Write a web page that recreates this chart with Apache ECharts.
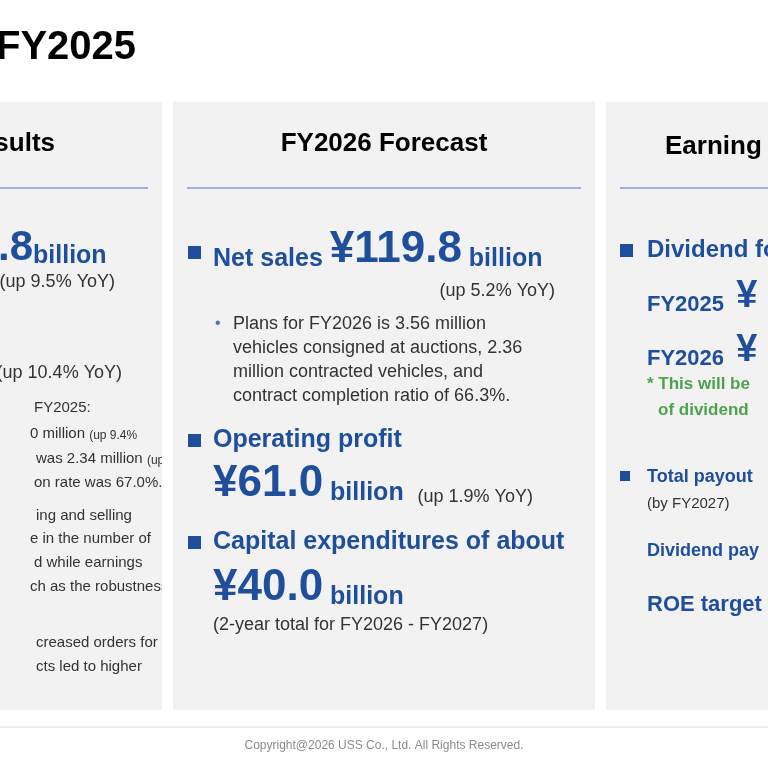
<!DOCTYPE html>
<html><head><meta charset="utf-8">
<script src="https://cdn.jsdelivr.net/npm/echarts@6/dist/echarts.min.js"></script>
<style>html,body{margin:0;padding:0;background:#fff}#c{width:768px;height:768px}</style>
</head><body><div id="c"></div>
<script>
const title = "FY2025";
const panelHeaders = ["Results", "FY2026 Forecast", "Earning"];
const forecastValues = ["¥119.8", "¥61.0", "¥40.0"];
const forecastChanges = ["(up 5.2% YoY)", "(up 1.9% YoY)"];
const forecastNotes = ["Plans for FY2026 is 3.56 million", "vehicles consigned at auctions, 2.36", "million contracted vehicles, and", "contract completion ratio of 66.3%."];
const leftLines = ["FY2025:", "0 million", "was 2.34 million", "on rate was 67.0%.", "ing and selling", "e in the number of", "d while earnings", "ch as the robustness", "creased orders for", "cts led to higher"];
const leftLineY = [408, 434, 459, 483, 516, 539, 563, 587, 643, 667];
const footer = "Copyright@2026 USS Co., Ltd. All Rights Reserved.";

const F = "Liberation Sans, Arial, sans-serif";
const B = "#1f4e9c", G = "#333";
const els = [];
function t(x, y, text, size, color, bold, align) {
  els.push({type:'text', x, y, style:{text, fill:color||G, font:(bold?'bold ':'')+size+'px '+F, textAlign:align||'left', textVerticalAlign:'middle'}});
}
function r(x, y, w, h, fill) { els.push({type:'rect', shape:{x,y,width:w,height:h}, style:{fill}}); }
function line(x1, y1, x2, y2, c, w) { els.push({type:'line', shape:{x1,y1,x2,y2}, style:{stroke:c, lineWidth:w||1}}); }
function rich(x, y, parts) {
  let rs = {}, s = '';
  parts.forEach((p, i) => { rs['p'+i] = {fontFamily:F, fontSize:p[1], fontWeight:p[3]?'bold':'normal', fill:p[2], verticalAlign:'bottom'}; s += '{p'+i+'|'+p[0]+'}'; });
  els.push({type:'text', x, y, style:{text:s, rich:rs, fill:parts[0][2], textVerticalAlign:'middle'}});
}

t(-4, 48, title, 40, '#000', true);
r(0, 102, 162, 608, '#f2f2f2');
r(173, 102, 422, 608, '#f2f2f2');
r(606, 102, 170, 608, '#f2f2f2');
t(55, 144, panelHeaders[0], 26, '#000', true, 'right');
t(384, 144, panelHeaders[1], 26, '#000', true, 'center');
t(665, 147, panelHeaders[2], 26, '#000', true);
line(0, 188, 148, 188, '#4472c4');
line(187, 188, 581, 188, '#4472c4');
line(620, 188, 768, 188, '#4472c4');

// left panel
rich(-2, 248, [['.8', 42, B, true], ['billion', 25, B, true]]);
t(115, 282, '(up 9.5% YoY)', 18, G, false, 'right');
t(122, 373, '(up 10.4% YoY)', 18, G, false, 'right');
leftLines.forEach((s, i) => {
  let x = [34, 30, 36, 34, 36, 30, 34, 30, 36, 36][i];
  if (i === 1) rich(x, leftLineY[i], [[s + ' ', 15, G], ['(up 9.4%', 12, G]]);
  else if (i === 2) rich(x, leftLineY[i], [[s + ' ', 15, G], ['(up', 12, G]]);
  else t(x, leftLineY[i], s, 15, G);
});
r(162, 380, 11, 330, '#fff');

// middle panel
r(188, 246, 13, 13, B);
rich(213, 250, [['Net sales ', 25, B, true], [forecastValues[0], 44, B, true], [' billion', 25, B, true]]);
t(555, 291, forecastChanges[0], 18, G, false, 'right');
t(215, 324, '•', 16, '#4472c4');
forecastNotes.forEach((s, i) => t(233, 324 + i * 24, s, 18, G));
r(188, 434, 13, 13, B);
t(213, 440, 'Operating profit', 25, B, true);
rich(213, 484, [[forecastValues[1], 44, B, true], [' billion  ', 25, B, true], [forecastChanges[1], 18, G]]);
r(188, 536, 13, 13, B);
t(213, 542, 'Capital expenditures of about', 25, B, true);
rich(213, 588, [[forecastValues[2], 44, B, true], [' billion', 25, B, true]]);
t(213, 625, '(2-year total for FY2026 - FY2027)', 18, G);

// right panel
r(620, 244, 13, 13, B);
t(647, 250, 'Dividend forecast', 24, B, true);
rich(647, 297, [['FY2025  ', 22, B, true], ['¥', 38, B, true]]);
rich(647, 351, [['FY2026  ', 22, B, true], ['¥', 38, B, true]]);
t(647, 384, '* This will be', 17, '#4ea24e', true);
t(658, 410, 'of dividend', 17, '#4ea24e', true);
r(620, 471, 10, 10, B);
t(647, 477, 'Total payout', 18, B, true);
t(647, 504, '(by FY2027)', 15, G);
t(647, 551, 'Dividend pay', 18, B, true);
t(647, 605, 'ROE target :', 22, B, true);

line(0, 727, 768, 727, '#d9d9d9');
t(384, 746, footer, 12, '#8c8c8c', false, 'center');

const chart = echarts.init(document.getElementById('c'));
chart.setOption({backgroundColor:'#fff', graphic:{elements:els}});
</script></body></html>
